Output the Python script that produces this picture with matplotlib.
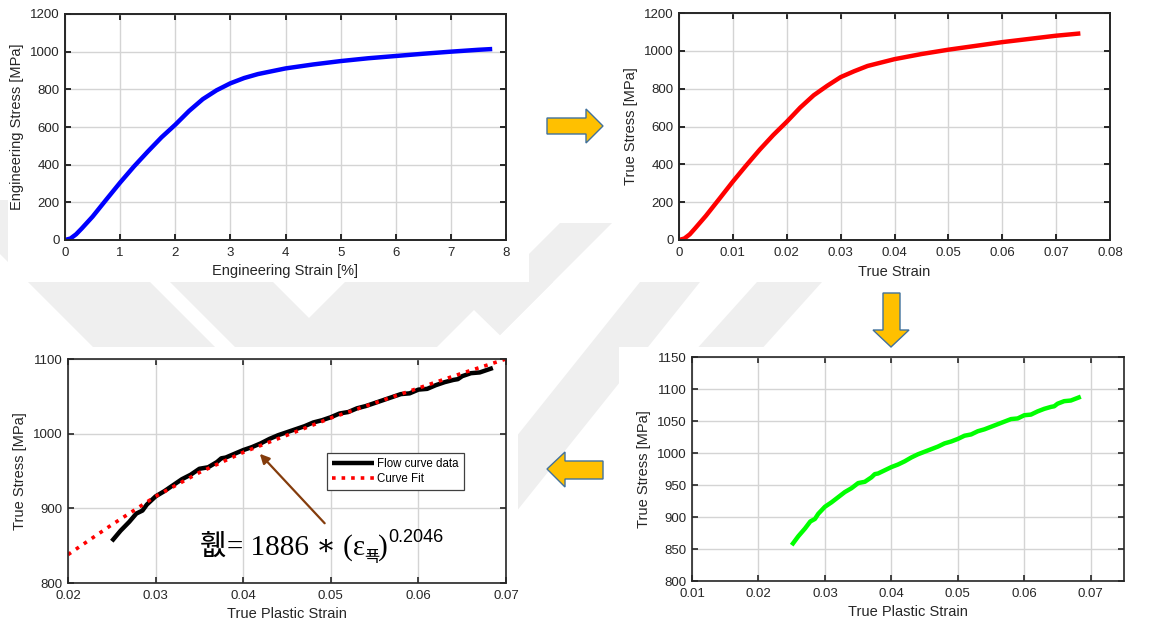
import matplotlib
matplotlib.use('Agg')
import matplotlib.pyplot as plt
from matplotlib.patches import Polygon, Rectangle

W, H = 1156, 624

# === DATA ===
eng_strain = [0, 0.1, 0.2, 0.3, 0.5, 0.75, 1.0, 1.25, 1.5, 1.75, 2.0, 2.25, 2.5,
              2.75, 3.0, 3.25, 3.5, 4.0, 4.5, 5.0, 5.5, 6.0, 6.5, 7.0, 7.5, 7.75]
eng_stress = [0, 8, 30, 60, 124, 215, 305, 390, 469, 545, 612, 685, 748,
              795, 832, 860, 881, 911, 932, 950, 965, 977, 989, 1000, 1010, 1014]

true_strain = [0, 0.001, 0.002, 0.003, 0.005, 0.0075, 0.01, 0.0125, 0.015, 0.0175,
               0.02, 0.0225, 0.025, 0.0275, 0.03, 0.0325, 0.035, 0.04, 0.045, 0.05,
               0.055, 0.06, 0.065, 0.07, 0.0745]
true_stress = [0, 8, 30, 62, 128, 218, 309, 395, 478, 555,
               625, 700, 765, 815, 861, 892, 920, 956, 983, 1006,
               1026, 1046, 1063, 1080, 1092]

plastic_strain = [0.025, 0.026, 0.027, 0.0278, 0.0285, 0.029, 0.030, 0.031, 0.032,
                  0.033, 0.034, 0.035, 0.036, 0.037, 0.0375, 0.038, 0.039, 0.040,
                  0.041, 0.042, 0.043, 0.044, 0.045, 0.046, 0.047, 0.048, 0.049,
                  0.050, 0.051, 0.052, 0.053, 0.054, 0.055, 0.056, 0.057, 0.058,
                  0.059, 0.060, 0.061, 0.062, 0.063, 0.064, 0.0645, 0.065, 0.066,
                  0.067, 0.068, 0.0685]
plastic_stress = [856, 870, 882, 893, 897, 905, 916, 923, 931,
                  939, 945, 953, 955, 962, 967, 968, 973, 978,
                  982, 987, 993, 998, 1002, 1006, 1010, 1015, 1018,
                  1022, 1027, 1029, 1034, 1037, 1041, 1045, 1049, 1053,
                  1054, 1059, 1060, 1065, 1069, 1072, 1073, 1077, 1081,
                  1082, 1086, 1088]

# power law fit curve, sampled from the red dotted line
fit_strain = [0.02, 0.025, 0.03, 0.035, 0.04, 0.045, 0.05, 0.055, 0.06, 0.065, 0.07]
fit_stress = [838, 878, 916, 948, 975, 998, 1021, 1041, 1061, 1081, 1100]

eng_xticks = [0, 1, 2, 3, 4, 5, 6, 7, 8]
stress_ticks = [0, 200, 400, 600, 800, 1000, 1200]
true_xticks = [0, 0.01, 0.02, 0.03, 0.04, 0.05, 0.06, 0.07, 0.08]
true_xlabels = ['0', '0.01', '0.02', '0.03', '0.04', '0.05', '0.06', '0.07', '0.08']
fit_xticks = [0.02, 0.03, 0.04, 0.05, 0.06, 0.07]
fit_xlabels = ['0.02', '0.03', '0.04', '0.05', '0.06', '0.07']
fit_yticks = [800, 900, 1000, 1100]
pl_xticks = [0.01, 0.02, 0.03, 0.04, 0.05, 0.06, 0.07]
pl_xlabels = ['0.01', '0.02', '0.03', '0.04', '0.05', '0.06', '0.07']
pl_yticks = [800, 850, 900, 950, 1000, 1050, 1100, 1150]

TXT = '#262626'
plt.rcParams['font.family'] = ['Liberation Sans', 'DejaVu Sans']


def px_rect(left, top, right, bottom):
    return [left / W, 1 - bottom / H, (right - left) / W, (bottom - top) / H]


def px_pts(points):
    return [(x / W, 1 - y / H) for x, y in points]


def band(x0, x1, y_ref, y_top, y_bot, slope):
    # parallelogram stripe: x-range [x0, x1] at y_ref, shifted by slope per pixel down
    a = y_top - y_ref
    b = y_bot - y_ref
    return [(x0 + slope * a, y_top), (x1 + slope * a, y_top),
            (x1 + slope * b, y_bot), (x0 + slope * b, y_bot)]


def style_axes(ax, lw=1.4):
    ax.set_zorder(3)
    ax.grid(True, color='#d4d4d4', linewidth=1.0)
    ax.set_axisbelow(True)
    for s in ax.spines.values():
        s.set_linewidth(lw)
        s.set_color(TXT)
    ax.tick_params(direction='in', length=4, width=lw, top=True, right=True,
                   labelsize=9.5, colors=TXT)
    ax.tick_params(axis='x', pad=5)
    ax.tick_params(axis='y', pad=4)
    ax.set_facecolor('white')


fig = plt.figure(figsize=(W / 100, H / 100), dpi=100)

# faint watermark stripes in the background
stripe_color = '#efefef'
stripes = [
    band(28, 150, 282, 200, 360, 1),
    band(170, 273, 282, 230, 360, 1),
    band(345, 553, 282, 282, 624, -1),
    band(640, 700, 282, 150, 624, -0.8),
    band(757, 822, 282, 150, 420, -0.9),
    band(560, 612, 223, 223, 624, -1),
]
for pts in stripes:
    fig.add_artist(Polygon(px_pts(pts), closed=True, facecolor=stripe_color,
                           edgecolor='none', transform=fig.transFigure, zorder=0))
fig.add_artist(Polygon(px_pts([(474, 310), (437, 347), (512, 347)]), closed=True,
                       facecolor='white', edgecolor='none',
                       transform=fig.transFigure, zorder=0.5))

# white panel backgrounds
for l, t, r, b in [(8, 0, 529, 282), (613, 0, 1156, 282), (529, 0, 613, 223),
                   (0, 347, 518, 624), (619, 347, 1156, 624)]:
    fig.add_artist(Rectangle((l / W, 1 - b / H), (r - l) / W, (b - t) / H,
                             facecolor='white', edgecolor='none',
                             transform=fig.transFigure, zorder=1))

# --- top left: engineering curve ---
ax1 = fig.add_axes(px_rect(65, 14, 506, 240))
ax1.plot(eng_strain, eng_stress, color='#0000ff', linewidth=3.2, solid_capstyle='butt')
ax1.set_xlim(0, 8)
ax1.set_ylim(0, 1200)
ax1.set_xticks(eng_xticks)
ax1.set_yticks(stress_ticks)
style_axes(ax1)
ax1.set_xlabel('Engineering Strain [%]', fontsize=10.5, color=TXT, labelpad=4)
ax1.set_ylabel('Engineering Stress [MPa]', fontsize=10.5, color=TXT, labelpad=4)

# --- top right: true curve ---
ax2 = fig.add_axes(px_rect(679, 13, 1110, 240))
ax2.plot(true_strain, true_stress, color='#ff0000', linewidth=3.2, solid_capstyle='butt')
ax2.set_xlim(0, 0.08)
ax2.set_ylim(0, 1200)
ax2.set_xticks(true_xticks, true_xlabels)
ax2.set_yticks(stress_ticks)
style_axes(ax2)
ax2.set_xlabel('True Strain', fontsize=10.5, color=TXT, labelpad=4)
ax2.set_ylabel('True Stress [MPa]', fontsize=10.5, color=TXT, labelpad=4)

# --- bottom right: plastic flow curve ---
ax4 = fig.add_axes(px_rect(692, 357, 1124, 581))
ax4.plot(plastic_strain, plastic_stress, color='#00ff00', linewidth=3.2,
         solid_capstyle='butt')
ax4.set_xlim(0.01, 0.075)
ax4.set_ylim(800, 1150)
ax4.set_xticks(pl_xticks, pl_xlabels)
ax4.set_yticks(pl_yticks)
style_axes(ax4, lw=1.2)
ax4.set_xlabel('True Plastic Strain', fontsize=10.5, color=TXT, labelpad=4)
ax4.set_ylabel('True Stress [MPa]', fontsize=10.5, color=TXT, labelpad=4)

# --- bottom left: flow curve with power law fit ---
ax3 = fig.add_axes(px_rect(68, 359, 506, 583))
ax3.plot(plastic_strain, plastic_stress, color='black', linewidth=3.2,
         label='Flow curve data', solid_capstyle='butt')
ax3.plot(fit_strain, fit_stress, color='#ff0000', linewidth=2.6, linestyle=':',
         label='Curve Fit')
ax3.set_xlim(0.02, 0.07)
ax3.set_ylim(800, 1100)
ax3.set_xticks(fit_xticks, fit_xlabels)
ax3.set_yticks(fit_yticks)
style_axes(ax3, lw=1.2)
ax3.set_xlabel('True Plastic Strain', fontsize=10.5, color=TXT, labelpad=4)
ax3.set_ylabel('True Stress [MPa]', fontsize=10.5, color=TXT, labelpad=4)

leg = ax3.legend(loc='upper left', bbox_to_anchor=(0.591, 0.58), borderaxespad=0,
                 fontsize=8.3, handlelength=3.6, handletextpad=0.3, fancybox=False,
                 framealpha=1, borderpad=0.45, labelspacing=0.25)
leg.get_frame().set_edgecolor('#404040')
leg.get_frame().set_linewidth(0.9)

# annotation arrow pointing at the curves
arrow_tail = (0.0493, 880)
arrow_head = (0.0419, 973)
ax3.annotate('', xy=arrow_head, xytext=arrow_tail,
             arrowprops=dict(arrowstyle='-|>', color='#843C0C', lw=1.6,
                             mutation_scale=14, shrinkA=0, shrinkB=0))

# the equation, drawn as it appears (garbled math glyphs)
serif = ['Liberation Serif', 'DejaVu Serif', 'Noto Sans CJK KR']
t1 = ax3.text(0.301, 0.125, '휎= 1886 ∗ (ε', transform=ax3.transAxes,
              fontsize=21, family=serif, color='black', va='baseline')
ax3.annotate('푝', xy=(1, 0), xycoords=t1, xytext=(-1, -1),
             textcoords='offset pixels', fontsize=12, family='Noto Sans CJK KR',
             va='baseline', ha='left')
t3 = ax3.annotate(')', xy=(1, 0), xycoords=t1, xytext=(13, 0),
                  textcoords='offset pixels', fontsize=21, family=serif,
                  va='bottom', ha='left')
ax3.annotate('0.2046', xy=(1, 1), xycoords=t3, xytext=(1, 5),
             textcoords='offset pixels', fontsize=13, va='top', ha='left')

# yellow block arrows between the panels
block_kw = dict(closed=True, facecolor='#FFC000', edgecolor='#41719C', linewidth=1.0,
                transform=fig.transFigure, zorder=5)
right_arrow = [(547, 118), (586, 118), (586, 109), (603, 126), (586, 143),
               (586, 134), (547, 134)]
down_arrow = [(883, 293), (900, 293), (900, 330), (909, 330), (891, 347),
              (873, 330), (883, 330)]
left_arrow = [(603, 461), (565, 461), (565, 452), (547, 469), (565, 487),
              (565, 479), (603, 479)]
for pts in (right_arrow, down_arrow, left_arrow):
    fig.add_artist(Polygon(px_pts(pts), **block_kw))

fig.savefig('out.png', dpi=100)
